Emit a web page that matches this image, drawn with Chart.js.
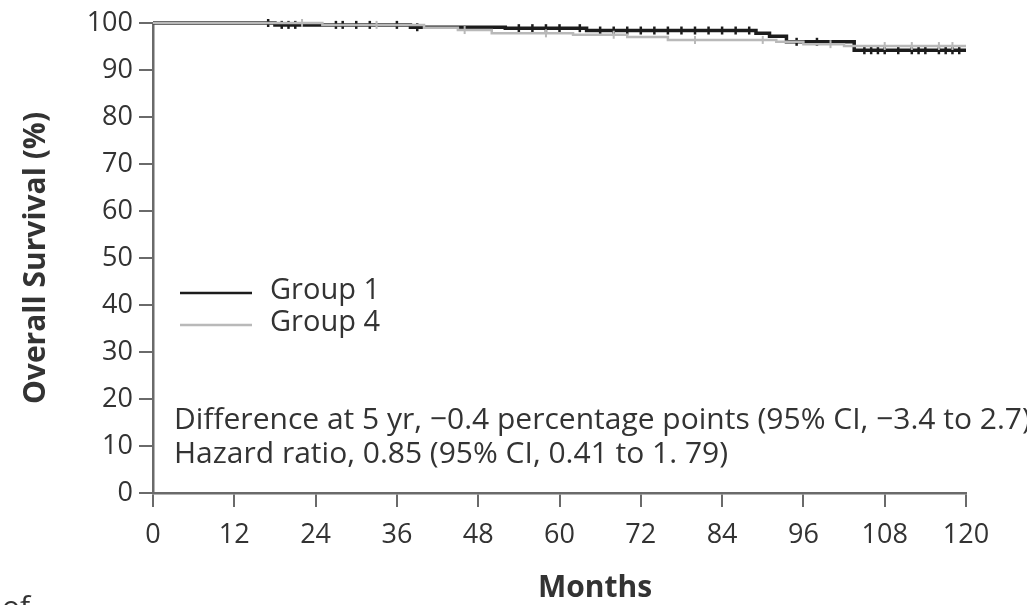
<!DOCTYPE html>
<html>
<head>
<meta charset="utf-8">
<script src="https://cdn.jsdelivr.net/npm/chart.js@4"></script>
<style>
  html, body { margin: 0; padding: 0; background: #fff; }
  #wrap { width: 1027px; height: 605px; position: relative; }
</style>
</head>
<body>
<div id="wrap"><canvas id="km"></canvas></div>
<script>
// Kaplan-Meier steps: month of each drop and the survival after it
const group1Times = [0, 18, 38, 52, 64, 89, 91, 93.5, 103.5, 120];
const group1Surv = [100, 99.6, 99.1, 98.9, 98.4, 97.8, 97.2, 96.0, 94.2, 94.2];
const group4Times = [0, 25, 40, 45, 50, 62, 70, 76, 92, 96, 102, 120];
const group4Surv = [100, 99.6, 99.0, 98.5, 97.8, 97.5, 97.0, 96.4, 96.0, 95.5, 95.1, 95.1];

// censored observations (small vertical ticks on the curves)
const group1Censored = [17, 19, 20, 21, 27, 28, 30, 32, 36, 39, 54, 56, 58, 60, 63, 66, 68, 70, 72, 74,
  76, 78, 80, 82, 84, 86, 88, 95, 98, 105, 106, 107, 108, 110, 112, 113, 114, 116, 117, 118, 119];
const group4Censored = [22, 33, 46, 58, 68, 80, 90, 100, 108, 112, 116, 118];

const xTicks = [0, 12, 24, 36, 48, 60, 72, 84, 96, 108, 120];
const yTicks = [0, 10, 20, 30, 40, 50, 60, 70, 80, 90, 100];

const legendLabels = ["Group 1", "Group 4"];
const noteLines = [
  "Difference at 5 yr, \u22120.4 percentage points (95% CI, \u22123.4 to 2.7)",
  "Hazard ratio, 0.85 (95% CI, 0.41 to 1. 79)"
];

const darkColor = "#1c1c1c";
const lightColor = "#b9b9b9";
const axisColor = "#6a6a6a";
const textColor = "#333";

// survival level of a step curve at month t
function levelAt(times, surv, t) {
  let v = surv[0];
  for (let i = 0; i < times.length; i++) {
    if (times[i] <= t) v = surv[i];
  }
  return v;
}

function toPoints(times, surv) {
  return times.map((t, i) => ({ x: t, y: surv[i] }));
}

Chart.defaults.font.family = "'Open Sans', 'Noto Sans', sans-serif";
Chart.defaults.color = textColor;

// legend, footnotes and x title drawn straight on the canvas
const textPlugin = {
  id: "kmText",
  afterDraw(chart) {
    const ctx = chart.ctx;
    ctx.save();
    ctx.textBaseline = "middle";
    ctx.textAlign = "left";

    // legend
    const legendY = [291, 323];
    const legendColors = [darkColor, lightColor];
    legendLabels.forEach((label, i) => {
      ctx.strokeStyle = legendColors[i];
      ctx.lineWidth = 2.5;
      ctx.beginPath();
      ctx.moveTo(180, legendY[i] + 2);
      ctx.lineTo(252, legendY[i] + 2);
      ctx.stroke();
      ctx.fillStyle = textColor;
      ctx.font = "29px 'Open Sans', sans-serif";
      ctx.fillText(label, 270, legendY[i]);
    });

    // notes
    ctx.font = "30px 'Open Sans', sans-serif";
    ctx.fillText(noteLines[0], 174, 420);
    ctx.fillText(noteLines[1], 174, 454);

    // x axis title
    ctx.textAlign = "center";
    ctx.font = "bold 30px 'Open Sans', sans-serif";
    ctx.fillText("Months", 595, 588);

    // fragment of the next caption line at the bottom edge
    ctx.textAlign = "left";
    ctx.font = "30px 'Open Sans', sans-serif";
    ctx.fillText("of", 2, 608);
    ctx.restore();
  }
};

new Chart(document.getElementById("km"), {
  type: "line",
  data: {
    datasets: [
      {
        label: legendLabels[1],
        data: toPoints(group4Times, group4Surv),
        borderColor: lightColor,
        borderWidth: 2.5,
        stepped: "before",
        pointRadius: 0,
        clip: 6
      },
      {
        label: legendLabels[1] + " censored",
        type: "scatter",
        data: group4Censored.map((t) => ({ x: t, y: levelAt(group4Times, group4Surv, t) })),
        pointStyle: "line",
        rotation: 90,
        pointRadius: 4,
        borderColor: lightColor,
        borderWidth: 2,
        clip: 6
      },
      {
        label: legendLabels[0],
        data: toPoints(group1Times, group1Surv),
        borderColor: darkColor,
        borderWidth: 3.5,
        stepped: "before",
        pointRadius: 0,
        clip: 6
      },
      {
        label: legendLabels[0] + " censored",
        type: "scatter",
        data: group1Censored.map((t) => ({ x: t, y: levelAt(group1Times, group1Surv, t) })),
        pointStyle: "line",
        rotation: 90,
        pointRadius: 4,
        borderColor: darkColor,
        borderWidth: 2.5,
        clip: 6
      }
    ]
  },
  options: {
    responsive: true,
    maintainAspectRatio: false,
    animation: false,
    layout: { padding: { top: 23, right: 61, left: 0, bottom: 0 } },
    plugins: {
      legend: { display: false },
      tooltip: { enabled: false }
    },
    scales: {
      x: {
        type: "linear",
        min: 0,
        max: 120,
        afterBuildTicks: (s) => { s.ticks = xTicks.map((v) => ({ value: v })); },
        afterFit: (s) => { s.height = 112; },
        border: { color: axisColor, width: 2.5 },
        grid: { drawOnChartArea: false, drawTicks: true, tickLength: 14, color: axisColor, lineWidth: 2 },
        ticks: { font: { size: 27 }, padding: 12, color: textColor, maxRotation: 0 }
      },
      y: {
        min: 0,
        max: 100,
        afterBuildTicks: (s) => { s.ticks = yTicks.map((v) => ({ value: v })); },
        afterFit: (s) => { s.width = 153; },
        border: { color: axisColor, width: 2.5 },
        grid: { drawOnChartArea: false, drawTicks: true, tickLength: 14, color: axisColor, lineWidth: 2 },
        ticks: { font: { size: 27 }, padding: 6, color: textColor },
        title: {
          display: true,
          text: "Overall Survival (%)",
          font: { size: 30, weight: "bold" },
          color: textColor,
          padding: { top: 18, bottom: 0 }
        }
      }
    }
  },
  plugins: [textPlugin]
});
</script>
</body>
</html>
